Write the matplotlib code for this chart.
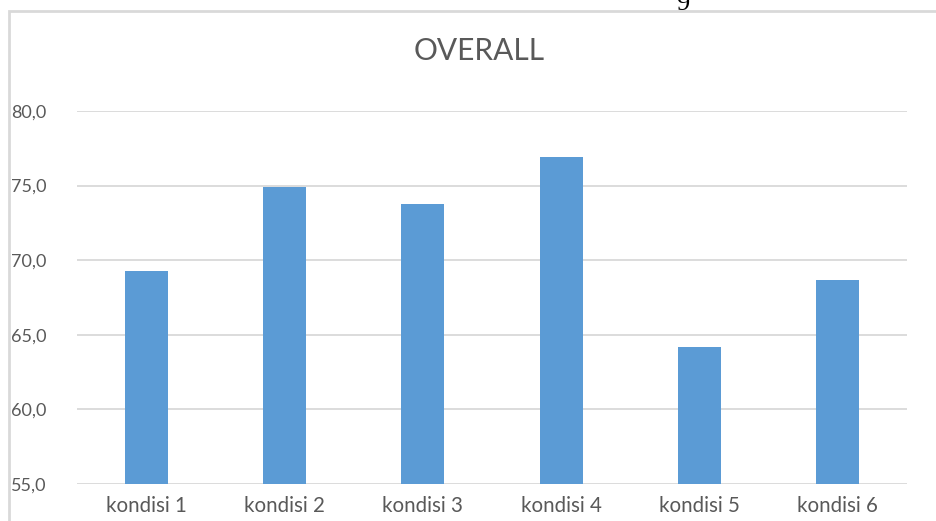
import matplotlib
matplotlib.use("Agg")
import matplotlib.pyplot as plt
from matplotlib.patches import Rectangle
from matplotlib.ticker import FuncFormatter

# Overall score per condition
categories = ["kondisi 1", "kondisi 2", "kondisi 3", "kondisi 4", "kondisi 5", "kondisi 6"]
values = [69.3, 74.9, 73.8, 76.9, 64.2, 68.7]
y_ticks = [55.0, 60.0, 65.0, 70.0, 75.0, 80.0]

BAR = "#5B9BD5"
TEXT = "#595959"
GRID = "#D9D9D9"

plt.rcParams["font.family"] = ["Lato", "DejaVu Sans"]

W, H = 937, 521
fig = plt.figure(figsize=(W / 100, H / 100), dpi=100)

# chart frame (runs off the right and bottom edges)
fig.patches.append(Rectangle((9.5 / W, -0.1), 2.0, 1.1 - 11 / H,
                             transform=fig.transFigure, fill=False,
                             edgecolor=GRID, linewidth=2.0))

# page number peeking in at the top
fig.text(683 / W, 1 - 10 / H, "9", ha="center", va="baseline",
         family="Liberation Serif", fontsize=19, color="black")

ax = fig.add_axes([77 / W, 37 / H, 830 / W, 373 / H])
x = range(len(categories))
ax.bar(x, values, width=0.31, color=BAR, zorder=3)

ax.set_xlim(-0.5, len(categories) - 0.5)
ax.set_ylim(y_ticks[0], y_ticks[-1])
ax.set_yticks(y_ticks)
ax.yaxis.set_major_formatter(FuncFormatter(lambda v, _: f"{v:.1f}".replace(".", ",")))
ax.set_xticks(list(x))
ax.set_xticklabels(categories)

ax.grid(axis="y", color=GRID, linewidth=1.3, zorder=0)
for s in ax.spines.values():
    s.set_visible(False)
ax.tick_params(axis="both", length=0, colors=TEXT)
ax.tick_params(axis="y", pad=22, labelsize=13)
ax.tick_params(axis="x", pad=9, labelsize=14.8)

fig.text(479 / W, 1 - 51 / H, "OVERALL", ha="center", va="center",
         fontsize=21.5, color=TEXT)

fig.savefig("out.png", dpi=100)
